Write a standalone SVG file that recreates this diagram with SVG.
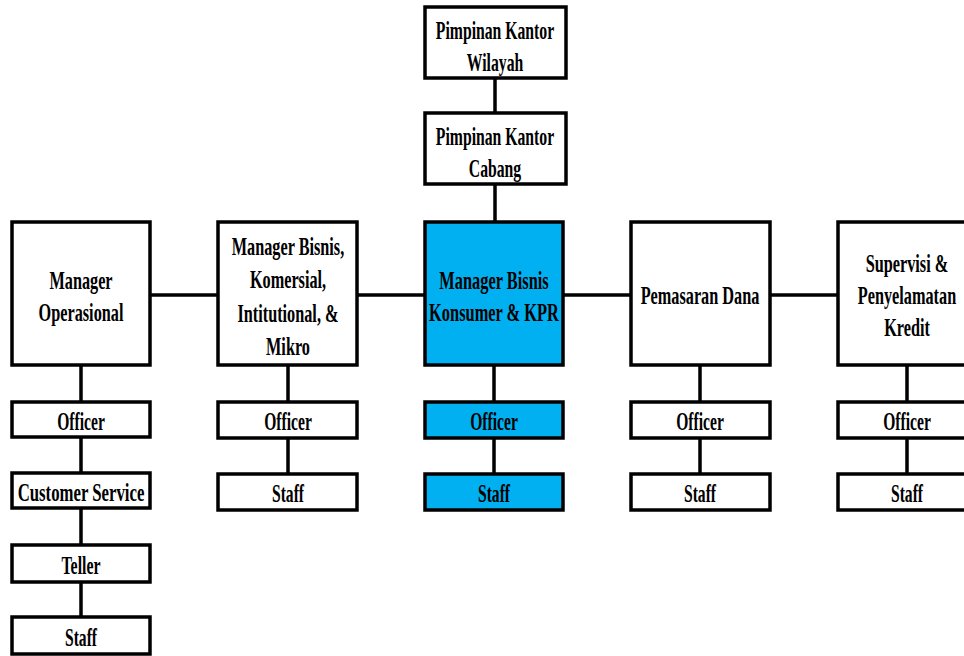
<svg xmlns="http://www.w3.org/2000/svg" width="964" height="656" viewBox="0 0 964 656">
<style>
.box{fill:#fff;stroke:#000;stroke-width:3.5}
.blue{fill:#00B0F0}
.con{stroke:#000;stroke-width:3.5;fill:none}
text{font-family:"Liberation Serif","Times New Roman",serif;font-weight:bold;font-size:26px;fill:#000;text-anchor:middle}
</style>
<rect width="964" height="656" fill="#fff"/>
<g id="connectors">
<path class="con" d="M495 78V113M495 184V222M150 295H838M81 365V402M81 437V473M81 508V545M81 582V617M288 365V402M288 438V474M494 365V402M494 438V474M700 365V402M700 438V474M907 365V402M907 438V474"/>
</g>
<g id="wilayah"><rect class="box" x="425" y="7" width="141" height="71"/>
<text transform="translate(495 39) scale(0.605 1)"><tspan x="0">Pimpinan Kantor</tspan><tspan x="0" dy="32.5">Wilayah</tspan></text></g>
<g id="cabang"><rect class="box" x="425" y="113" width="141" height="71"/>
<text transform="translate(495 145) scale(0.605 1)"><tspan x="0">Pimpinan Kantor</tspan><tspan x="0" dy="32">Cabang</tspan></text></g>
<g id="mgr-ops"><rect class="box" x="12" y="222" width="138" height="143"/>
<text transform="translate(81 289) scale(0.625 1)"><tspan x="0">Manager</tspan><tspan x="0" dy="32">Operasional</tspan></text></g>
<g id="mgr-bisnis"><rect class="box" x="218" y="222" width="139" height="143"/>
<text transform="translate(288 255) scale(0.625 1)"><tspan x="0">Manager Bisnis,</tspan><tspan x="0" dy="33.5">Komersial,</tspan><tspan x="0" dy="33.5">Intitutional, &amp;</tspan><tspan x="0" dy="33.5">Mikro</tspan></text></g>
<g id="mgr-konsumer"><rect class="box blue" x="425" y="222" width="138" height="143"/>
<text transform="translate(494 289) scale(0.63 1)"><tspan x="0">Manager Bisnis</tspan><tspan x="0" dy="32">Konsumer &amp; KPR</tspan></text></g>
<g id="pemasaran"><rect class="box" x="631" y="222" width="139" height="143"/>
<text transform="translate(700 304) scale(0.625 1)">Pemasaran Dana</text></g>
<g id="supervisi"><rect class="box" x="838" y="222" width="138" height="143"/>
<text transform="translate(907 272) scale(0.625 1)"><tspan x="0">Supervisi &amp;</tspan><tspan x="0" dy="32">Penyelamatan</tspan><tspan x="0" dy="32">Kredit</tspan></text></g>
<g id="ops-officer"><rect class="box" x="12" y="402" width="138" height="35"/><text transform="translate(81 429.5) scale(0.6 1)">Officer</text></g>
<g id="ops-cs"><rect class="box" x="12" y="473" width="138" height="35"/><text transform="translate(81 501) scale(0.645 1)">Customer Service</text></g>
<g id="ops-teller"><rect class="box" x="12" y="545" width="138" height="37"/><text transform="translate(81 573.5) scale(0.61 1)">Teller</text></g>
<g id="ops-staff"><rect class="box" x="12" y="617" width="138" height="37"/><text transform="translate(81 645.5) scale(0.6 1)">Staff</text></g>
<g id="bisnis-officer"><rect class="box" x="218" y="402" width="139" height="36"/><text transform="translate(288 429.5) scale(0.6 1)">Officer</text></g>
<g id="bisnis-staff"><rect class="box" x="218" y="474" width="139" height="36"/><text transform="translate(288 501.5) scale(0.6 1)">Staff</text></g>
<g id="konsumer-officer"><rect class="box blue" x="425" y="402" width="138" height="36"/><text transform="translate(494 429.5) scale(0.6 1)">Officer</text></g>
<g id="konsumer-staff"><rect class="box blue" x="425" y="474" width="138" height="36"/><text transform="translate(494 501.5) scale(0.6 1)">Staff</text></g>
<g id="pemasaran-officer"><rect class="box" x="631" y="402" width="139" height="36"/><text transform="translate(700 429.5) scale(0.6 1)">Officer</text></g>
<g id="pemasaran-staff"><rect class="box" x="631" y="474" width="139" height="36"/><text transform="translate(700 501.5) scale(0.6 1)">Staff</text></g>
<g id="supervisi-officer"><rect class="box" x="838" y="402" width="138" height="36"/><text transform="translate(907 429.5) scale(0.6 1)">Officer</text></g>
<g id="supervisi-staff"><rect class="box" x="838" y="474" width="138" height="36"/><text transform="translate(907 501.5) scale(0.6 1)">Staff</text></g>
</svg>
